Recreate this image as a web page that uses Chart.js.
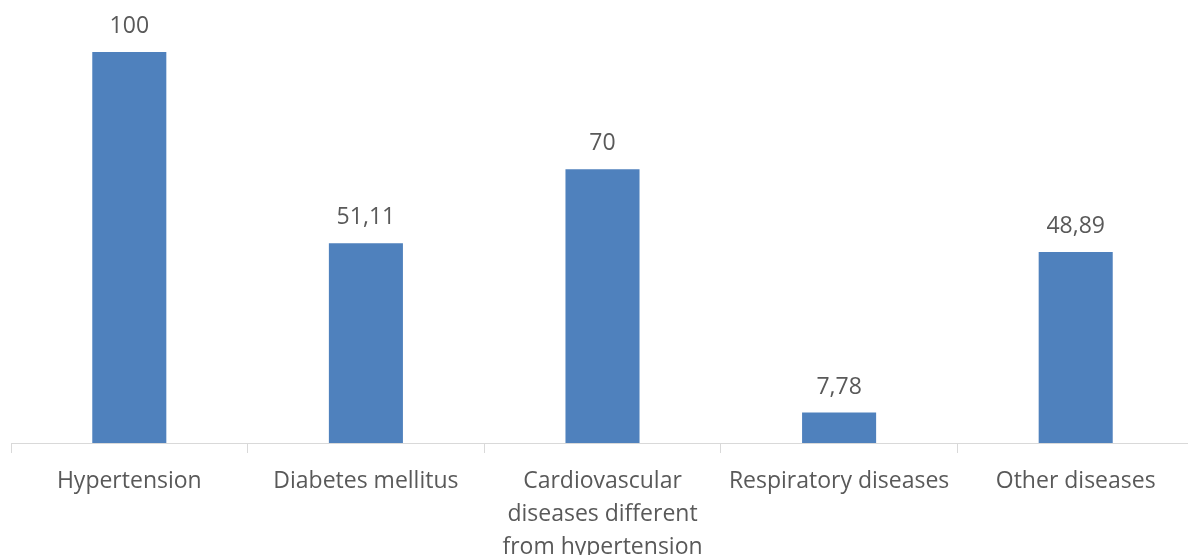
<!DOCTYPE html>
<html>
<head>
<meta charset="utf-8">
<script src="https://cdn.jsdelivr.net/npm/chart.js@4/dist/chart.umd.min.js"></script>
<style>
  html, body { margin: 0; padding: 0; background: #fff; overflow: hidden; }
  #wrap { position: relative; width: 1200px; height: 570px; }
</style>
</head>
<body>
<div id="wrap"><canvas id="c" width="1200" height="570"></canvas></div>
<script>
const categories = [
  "Hypertension",
  "Diabetes mellitus",
  ["Cardiovascular", "diseases different", "from hypertension"],
  "Respiratory diseases",
  "Other diseases"
];
const values = [100, 51.11, 70, 7.78, 48.89];

const textColor = "#595959";
const fontFamily = "'Open Sans', 'DejaVu Sans', sans-serif";

// Value labels above each bar, written with a decimal comma
const valueLabels = {
  id: "valueLabels",
  afterDatasetsDraw(chart) {
    const ctx = chart.ctx;
    const meta = chart.getDatasetMeta(0);
    ctx.save();
    ctx.fillStyle = textColor;
    ctx.font = "23px " + fontFamily;
    ctx.textAlign = "center";
    ctx.textBaseline = "alphabetic";
    meta.data.forEach((bar, i) => {
      const txt = String(values[i]).replace(".", ",");
      ctx.fillText(txt, bar.x, bar.y - 19);
    });
    ctx.restore();
  }
};

new Chart(document.getElementById("c"), {
  type: "bar",
  data: {
    labels: categories,
    datasets: [{
      data: values,
      backgroundColor: "#4f81bd",
      borderWidth: 0,
      categoryPercentage: 1,
      barPercentage: 0.313
    }]
  },
  options: {
    responsive: false,
    animation: false,
    layout: { padding: { left: 11, right: 6, top: 13, bottom: 0 } },
    plugins: { legend: { display: false }, tooltip: { enabled: false } },
    scales: {
      y: { display: false, min: 0, max: 110 },
      x: {
        afterFit(scale) { scale.height = 127; },
        border: { display: true, color: "#d9d9d9", width: 1 },
        grid: {
          offset: true,
          drawOnChartArea: false,
          drawTicks: true,
          tickLength: 10,
          color: "#d9d9d9"
        },
        ticks: {
          color: textColor,
          padding: 12,
          maxRotation: 0,
          autoSkip: false,
          font: { family: fontFamily, size: 23, lineHeight: 1.43 }
        }
      }
    }
  },
  plugins: [valueLabels]
});
</script>
</body>
</html>
